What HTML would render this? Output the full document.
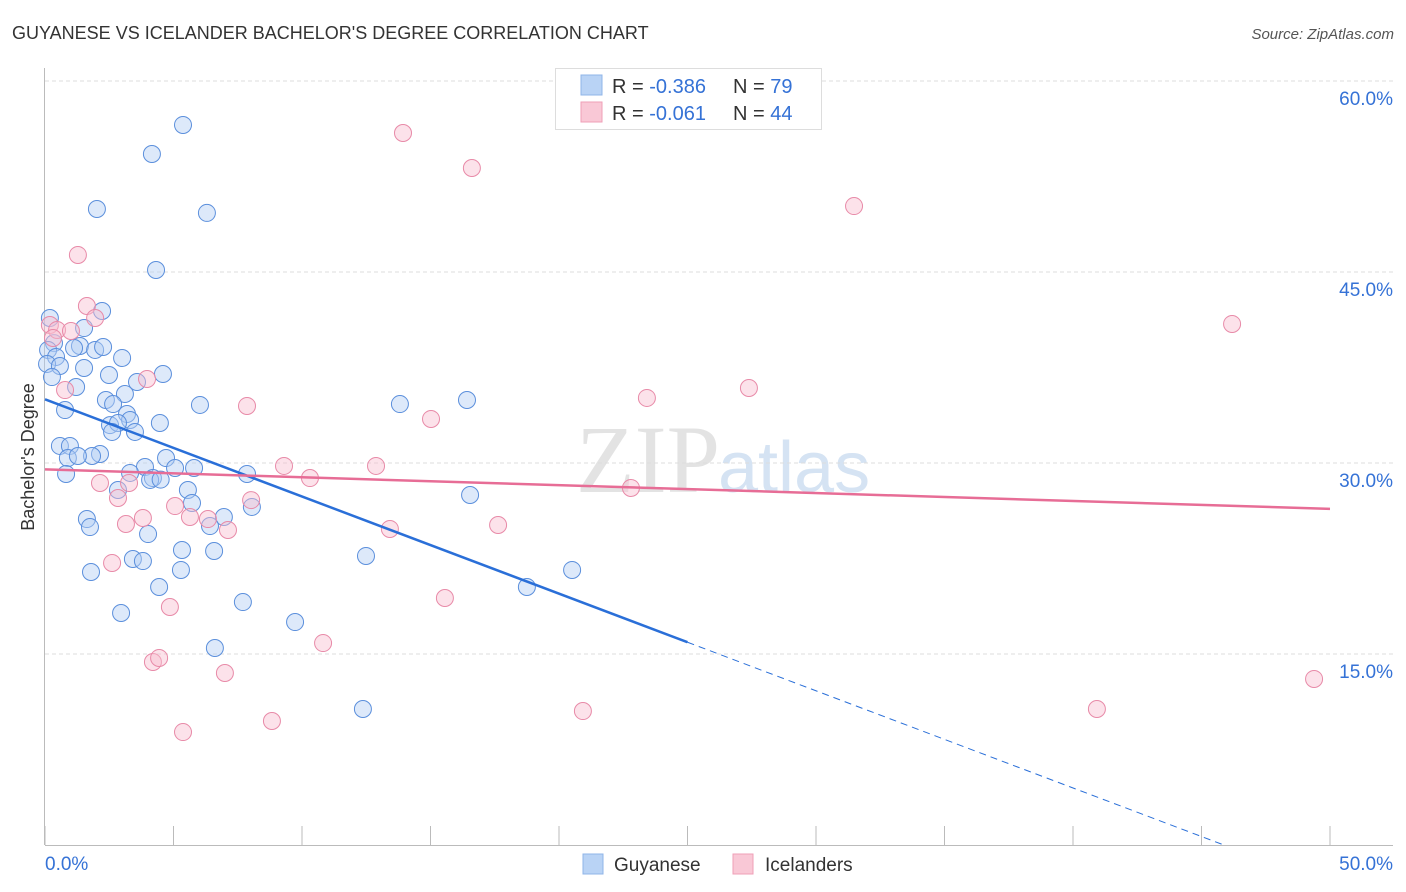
<!DOCTYPE html>
<html><head><meta charset="utf-8"><style>
body{margin:0;background:#fff;font-family:"Liberation Sans",sans-serif;}
svg{display:block}
</style></head><body>
<svg id="chart" width="1406" height="892" xmlns="http://www.w3.org/2000/svg">
<text x="12" y="39" font-size="18" fill="#333">GUYANESE VS ICELANDER BACHELOR'S DEGREE CORRELATION CHART</text>
<text x="1394" y="39" font-size="15" fill="#555" font-style="italic" text-anchor="end">Source: ZipAtlas.com</text>
<text x="720" y="492" font-size="96" fill="#e3e3e3" font-family="Liberation Serif,serif" text-anchor="end">ZIP</text>
<text x="718" y="492" font-size="72" fill="#d5e3f3">atlas</text>
<g id="grid"></g>
<g id="axes"></g>
<g id="marks"></g>
<text transform="translate(34,457) rotate(-90)" font-size="18" fill="#333" text-anchor="middle">Bachelor's Degree</text>
<g>
<rect x="555.5" y="68.5" width="266" height="61" fill="#fff" stroke="#ddd"/>
<rect x="581" y="75" width="21" height="20" fill="#b9d3f5" stroke="#8fb4e8"/>
<rect x="581" y="102" width="21" height="20" fill="#f9c8d6" stroke="#ef9fb7"/>
<text x="612" y="93" font-size="20" fill="#333">R = <tspan fill="#3572d6">-0.386</tspan><tspan x="733">N = </tspan><tspan fill="#3572d6">79</tspan></text>
<text x="612" y="120" font-size="20" fill="#333">R = <tspan fill="#3572d6">-0.061</tspan><tspan x="733">N = </tspan><tspan fill="#3572d6">44</tspan></text>
</g>
<g>
<rect x="583" y="854" width="20" height="20" fill="#b9d3f5" stroke="#8fb4e8"/>
<text x="614" y="871" font-size="19" fill="#333">Guyanese</text>
<rect x="733" y="854" width="20" height="20" fill="#f9c8d6" stroke="#ef9fb7"/>
<text x="765" y="871" font-size="19" fill="#333">Icelanders</text>
</g>
</svg>
<script>
const yTicks=[15,30,45,60];
const yTickLabels=["15.0%","30.0%","45.0%","60.0%"];
const xTicks=[0,5,10,15,20,25,30,35,40,45,50];
const xEndLabels=["0.0%","50.0%"];
const blueX=[5.37,4.16,2.02,6.30,4.32,2.22,0.19,1.52,0.35,0.12,0.43,1.36,1.13,1.95,2.26,3.00,0.08,0.58,1.52,0.27,2.49,3.58,4.59,1.21,3.11,2.37,2.65,0.78,3.19,6.03,13.81,16.42,3.31,2.53,2.84,4.47,2.61,3.50,0.58,0.97,2.14,1.83,0.89,1.28,4.71,3.89,5.06,5.80,3.31,0.82,7.86,4.20,4.09,2.84,5.56,5.72,16.54,8.05,6.96,1.63,6.42,1.75,4.01,5.33,6.58,12.49,3.42,3.81,1.79,5.29,20.51,4.44,18.75,7.70,2.96,9.73,6.61,12.37,4.50];
const blueY=[56.55,54.27,49.95,49.64,45.16,41.94,41.39,40.60,39.42,38.88,38.33,39.19,39.03,38.88,39.11,38.25,37.78,37.62,37.46,36.75,36.91,36.36,36.99,35.97,35.42,34.95,34.63,34.16,33.85,34.56,34.63,34.95,33.38,32.98,33.14,33.14,32.44,32.44,31.34,31.34,30.71,30.55,30.39,30.55,30.39,29.69,29.61,29.61,29.22,29.14,29.14,28.82,28.67,27.88,27.88,26.86,27.49,26.55,25.76,25.60,25.05,24.97,24.42,23.17,23.09,22.70,22.46,22.30,21.44,21.60,21.60,20.26,20.26,19.08,18.22,17.51,15.47,10.68,28.70];
const pinkX=[13.93,16.61,31.48,1.28,1.63,1.95,0.19,0.47,1.01,0.31,3.97,0.78,7.86,27.39,23.42,15.02,46.19,9.30,12.88,10.31,2.14,22.80,3.27,2.84,8.02,5.06,5.64,6.34,3.81,3.15,7.12,13.42,17.63,2.61,15.56,4.86,10.82,4.20,4.44,7.00,49.38,8.83,20.93,40.93,5.37];
const pinkY=[55.92,53.17,50.18,46.34,42.33,41.39,40.84,40.45,40.37,39.82,36.60,35.73,34.48,35.89,35.11,33.46,40.92,29.77,29.77,28.82,28.43,28.04,28.43,27.25,27.09,26.62,25.76,25.60,25.68,25.21,24.74,24.82,25.13,22.15,19.40,18.69,15.86,14.37,14.69,13.51,13.04,9.74,10.52,10.68,8.87];
const blueFit=[35.0,-0.763];
const pinkFit=[29.5,-0.062];
const NS="http://www.w3.org/2000/svg";
const X=v=>45+v*25.7, Y=v=>845-v*12.733;
function mk(tag,attrs,parent){const e=document.createElementNS(NS,tag);for(const k in attrs)e.setAttribute(k,attrs[k]);document.getElementById(parent).appendChild(e);return e;}
yTicks.forEach((t,i)=>{
 const g=mk('line',{x1:45,x2:1393,y1:Y(t),y2:Y(t),stroke:'#ddd','stroke-dasharray':'4,3'},'grid');
 
 
 const l=mk('text',{x:1393,y:Y(t)+24,'font-size':19,fill:'#3572d6','text-anchor':'end'},'axes');
 l.textContent=yTickLabels[i];
 
 
});
const gl=mk('line',{x1:45,x2:1393,y1:Y(62.5)-1,y2:Y(62.5)-1,stroke:'none'},'grid');


const ya=mk('line',{x1:44.5,x2:44.5,y1:68,y2:845,stroke:'#bbb'},'axes');


const xa=mk('line',{x1:45,x2:1393,y1:845.5,y2:845.5,stroke:'#bbb'},'axes');


xTicks.forEach(t=>{const k=mk('line',{x1:X(t),x2:X(t),y1:826,y2:845,stroke:'#bbb'},'axes');
 
 });
const x0=mk('text',{x:45,y:870,'font-size':19,fill:'#3572d6'},'axes');x0.textContent=xEndLabels[0];


const x1=mk('text',{x:1393,y:870,'font-size':19,fill:'#3572d6','text-anchor':'end'},'axes');x1.textContent=xEndLabels[1];


function dots(xs,ys,fill,stroke,name){xs.forEach((x,i)=>{const c=mk('circle',{cx:X(x),cy:Y(ys[i]),r:8.5,fill:fill,'fill-opacity':0.45,stroke:stroke,'stroke-width':1},'marks');
 
 });}
dots(blueX,blueY,'#b3cff3','#5b8fdc','guyanese-point');
dots(pinkX,pinkY,'#f8bfd0','#e88aa8','icelanders-point');
const bEnd=25;const bZero=-blueFit[0]/blueFit[1];
const b1=mk('line',{x1:X(0),y1:Y(blueFit[0]),x2:X(bEnd),y2:Y(blueFit[0]+blueFit[1]*bEnd),stroke:'#2a6fd8','stroke-width':2.5},'marks');


const b2=mk('line',{x1:X(bEnd),y1:Y(blueFit[0]+blueFit[1]*bEnd),x2:X(bZero),y2:Y(0),stroke:'#2a6fd8','stroke-width':1,'stroke-dasharray':'7,5'},'marks');


const p1=mk('line',{x1:X(0),y1:Y(pinkFit[0]),x2:X(50),y2:Y(pinkFit[0]+pinkFit[1]*50),stroke:'#e76d96','stroke-width':2.5},'marks');


</script>
</body></html>
